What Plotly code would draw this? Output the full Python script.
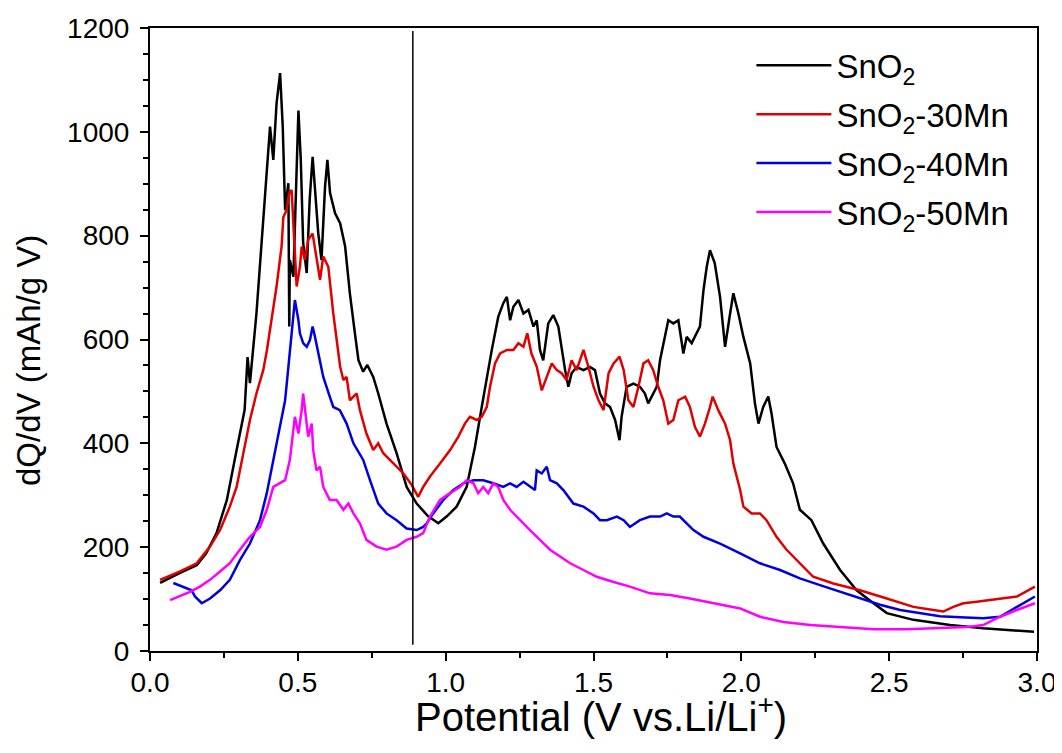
import plotly.graph_objects as go

# ---- data ----
sno2_x = [0.034, 0.10, 0.158, 0.19, 0.225, 0.26, 0.293, 0.32, 0.33, 0.338, 0.36, 0.378, 0.383, 0.395, 0.406,
          0.417, 0.428, 0.44, 0.449, 0.457, 0.468, 0.471, 0.473, 0.485, 0.496, 0.502, 0.51, 0.518, 0.53, 0.54,
          0.55, 0.558, 0.569, 0.58, 0.592, 0.60, 0.609, 0.626, 0.643, 0.66, 0.676, 0.693, 0.705, 0.721, 0.735,
          0.755, 0.772, 0.80, 0.834, 0.868, 0.902, 0.94, 0.975, 1.003, 1.037, 1.071, 1.099, 1.122, 1.139, 1.156,
          1.178, 1.195, 1.207, 1.218, 1.229, 1.246, 1.263, 1.28, 1.297, 1.308, 1.319, 1.33, 1.347, 1.364, 1.381,
          1.392, 1.404, 1.415, 1.426, 1.443, 1.466, 1.488, 1.505, 1.522, 1.539, 1.556, 1.573, 1.588, 1.595,
          1.612, 1.635, 1.657, 1.674, 1.685, 1.697, 1.714, 1.725, 1.742, 1.753, 1.77, 1.787, 1.804, 1.815,
          1.832, 1.849, 1.86, 1.872, 1.883, 1.894, 1.91, 1.928, 1.945, 1.962, 1.973, 1.99, 2.007, 2.03, 2.046,
          2.058, 2.074, 2.091, 2.102, 2.119, 2.147, 2.175, 2.198, 2.237, 2.277, 2.334, 2.39, 2.447, 2.492,
          2.582, 2.706, 2.818, 2.99]
sno2_y = [131, 150, 165, 188, 227, 291, 387, 464, 566, 516, 650, 792, 830, 913, 1010,
          946, 1055, 1113, 1010, 849, 901, 625, 753, 721, 913, 1041, 946, 786, 728, 869,
          952, 882, 805, 753, 894, 946, 882, 843, 824, 779, 689, 612, 560, 538, 551,
          528, 496, 438, 381, 316, 284, 260, 246, 259, 278, 316, 393, 470, 528, 580,
          644, 670, 682, 637, 663, 676, 650, 657, 625, 637, 580, 560, 631, 647, 625,
          580, 541, 509, 535, 547, 541, 547, 541, 496, 477, 470, 445, 406, 451,
          509, 515, 509, 496, 477, 490, 509, 560, 605, 637, 631, 637, 573, 605,
          593, 612, 625, 695, 740, 772, 747, 682, 586, 650, 689, 650, 605, 554, 477,
          438, 470, 490, 458, 393, 361, 323, 272, 252, 207, 156, 117, 92, 73,
          60, 50, 44, 37]

mn30_x = [0.034, 0.10, 0.158, 0.203, 0.237, 0.27, 0.293, 0.316, 0.338, 0.36, 0.383, 0.395, 0.411, 0.428,
          0.445, 0.451, 0.462, 0.471, 0.479, 0.485, 0.496, 0.507, 0.513, 0.524, 0.535, 0.55, 0.563, 0.575,
          0.586, 0.603, 0.62, 0.643, 0.654, 0.665, 0.676, 0.699, 0.71, 0.732, 0.755, 0.772, 0.789, 0.823,
          0.857, 0.885, 0.907, 0.924, 0.947, 0.981, 1.015, 1.043, 1.065, 1.082, 1.105, 1.122, 1.139, 1.15,
          1.167, 1.184, 1.207, 1.229, 1.246, 1.263, 1.276, 1.29, 1.308, 1.325, 1.342, 1.359, 1.376, 1.392,
          1.409, 1.426, 1.443, 1.466, 1.483, 1.5, 1.517, 1.534, 1.551, 1.568, 1.588, 1.602, 1.618, 1.635,
          1.652, 1.669, 1.685, 1.702, 1.719, 1.736, 1.753, 1.77, 1.787, 1.81, 1.826, 1.843, 1.86, 1.877,
          1.894, 1.903, 1.922, 1.945, 1.962, 1.973, 1.996, 2.007, 2.035, 2.063, 2.085, 2.119, 2.153, 2.198,
          2.243, 2.311, 2.401, 2.492, 2.582, 2.65, 2.683, 2.717, 2.751, 2.796, 2.875, 2.932, 2.993]
mn30_y = [137, 153, 169, 201, 233, 278, 316, 381, 445, 496, 541, 578, 637, 702,
          779, 836, 849, 882, 888, 817, 702, 740, 779, 753, 792, 804, 753, 715,
          760, 740, 650, 548, 522, 528, 483, 496, 464, 419, 387, 400, 381, 361,
          342, 320, 297, 316, 336, 361, 387, 413, 438, 451, 445, 451, 470, 509,
          554, 573, 580, 580, 593, 586, 612, 573, 548, 502, 528, 554, 541, 535,
          522, 560, 541, 580, 547, 509, 483, 464, 535, 554, 567, 541, 483, 470,
          509, 554, 560, 541, 509, 483, 438, 445, 483, 490, 470, 432, 413, 438,
          470, 490, 464, 438, 406, 361, 310, 278, 265, 265, 252, 220, 195, 169,
          143, 130, 117, 101, 85, 79, 76, 85, 92, 95, 101, 105, 124]

mn40_x = [0.079, 0.113, 0.141, 0.152, 0.175, 0.203, 0.237, 0.27, 0.304, 0.338, 0.372, 0.395, 0.417, 0.44,
          0.457, 0.468, 0.479, 0.487, 0.49, 0.502, 0.507, 0.518, 0.53, 0.541, 0.55, 0.558, 0.569, 0.586,
          0.608, 0.62, 0.642, 0.665, 0.688, 0.721, 0.744, 0.772, 0.80, 0.834, 0.868, 0.902, 0.924, 0.936,
          0.958, 0.992, 1.026, 1.06, 1.094, 1.127, 1.161, 1.195, 1.218, 1.24, 1.263, 1.285, 1.302, 1.308,
          1.325, 1.342, 1.353, 1.376, 1.398, 1.432, 1.466, 1.5, 1.522, 1.545, 1.579, 1.602, 1.623, 1.657,
          1.691, 1.725, 1.748, 1.77, 1.792, 1.815, 1.838, 1.872, 1.928, 1.996, 2.063, 2.131, 2.198, 2.266,
          2.334, 2.401, 2.469, 2.537, 2.604, 2.672, 2.74, 2.818, 2.875, 2.932, 2.993]
mn40_y = [131, 124, 117, 105, 92, 101, 117, 137, 175, 207, 252, 304, 368, 432,
          483, 547, 612, 663, 676, 637, 612, 593, 586, 599, 625, 605, 573, 528,
          490, 470, 464, 438, 400, 368, 329, 284, 265, 252, 236, 233, 239, 246,
          265, 291, 310, 323, 329, 329, 323, 316, 323, 316, 326, 316, 310, 348,
          342, 355, 329, 323, 310, 284, 278, 265, 252, 252, 259, 252, 239, 252,
          259, 259, 265, 259, 259, 246, 233, 220, 207, 188, 169, 156, 140, 127,
          114, 101, 89, 79, 73, 67, 65, 63, 66, 85, 105]

mn50_x = [0.068, 0.10, 0.135, 0.169, 0.203, 0.237, 0.27, 0.304, 0.338, 0.372, 0.395, 0.417, 0.44, 0.457,
          0.473, 0.485, 0.49, 0.502, 0.513, 0.518, 0.527, 0.535, 0.547, 0.552, 0.563, 0.575, 0.586, 0.608,
          0.631, 0.654, 0.671, 0.688, 0.71, 0.732, 0.766, 0.80, 0.834, 0.868, 0.902, 0.924, 0.947, 0.981,
          1.015, 1.048, 1.071, 1.094, 1.11, 1.127, 1.144, 1.161, 1.178, 1.195, 1.218, 1.251, 1.285, 1.319,
          1.353, 1.387, 1.421, 1.466, 1.511, 1.568, 1.623, 1.691, 1.759, 1.826, 1.883, 1.928, 1.996, 2.063,
          2.142, 2.233, 2.334, 2.447, 2.56, 2.672, 2.762, 2.818, 2.875, 2.932, 2.993]
mn50_y = [98, 105, 114, 124, 137, 153, 169, 195, 220, 239, 272, 316, 323, 329,
          368, 419, 451, 419, 464, 496, 451, 413, 438, 387, 348, 355, 316, 291,
          291, 272, 284, 265, 246, 214, 201, 195, 201, 214, 220, 227, 259, 291,
          304, 316, 329, 323, 304, 316, 304, 323, 316, 291, 272, 252, 233, 214,
          195, 182, 169, 156, 143, 133, 124, 111, 108, 101, 95, 89, 82, 66,
          56, 50, 46, 42, 42, 44, 46, 50, 66, 79, 92]

names = ["SnO<sub>2</sub>", "SnO<sub>2</sub>-30Mn", "SnO<sub>2</sub>-40Mn", "SnO<sub>2</sub>-50Mn"]
colors = ["#000000", "#e00000", "#0000e0", "#ff00ff"]
marker_x = 0.889  # vertical reference line position (V)
x_title = "Potential (V vs.Li/Li<sup>+</sup>)"
y_title = "dQ/dV (mAh/g V)"

series = [(sno2_x, sno2_y), (mn30_x, mn30_y), (mn40_x, mn40_y), (mn50_x, mn50_y)]

fig = go.Figure()
for i, ((xs, ys), nm, c) in enumerate(zip(series, names, colors)):
    fig.add_trace(go.Scatter(x=xs, y=ys, mode="lines", name=nm, legendgroup=f"g{i}",
                             line=dict(color=c, width=2.5)))

fig.add_shape(type="line", x0=marker_x, x1=marker_x, y0=12, y1=1194,
              xref="x", yref="y", line=dict(color="black", width=1.5))

# axis titles as annotations (placed like in the reference)
fig.add_annotation(text=x_title, xref="paper", yref="paper", x=0.508, y=-0.101,
                   xanchor="center", yanchor="middle", showarrow=False,
                   font=dict(size=40))
fig.add_annotation(text=y_title, xref="paper", yref="paper", x=-0.1364, y=0.4655,
                   xanchor="center", yanchor="middle", showarrow=False, textangle=-90,
                   font=dict(size=33))

font_family = "Liberation Sans, Arial, sans-serif"
fig.update_layout(
    width=1054, height=745,
    margin=dict(l=142, r=25, t=20, b=102, autoexpand=False),
    paper_bgcolor="white", plot_bgcolor="white",
    font=dict(family=font_family, color="black", size=28),
    showlegend=True,
    legend=dict(x=0.678, y=0.985, xanchor="left", yanchor="top",
                bgcolor="rgba(0,0,0,0)", font=dict(size=33), itemwidth=75,
                tracegroupgap=3),
    xaxis=dict(range=[0, 3.0], dtick=0.5, tick0=0, tickformat=".1f",
               showline=True, linecolor="black", linewidth=2, mirror=True,
               ticks="outside", ticklen=8, tickwidth=2, tickcolor="black",
               minor=dict(dtick=0.25, ticks="outside", ticklen=5, tickwidth=1.5, tickcolor="black"),
               showgrid=False, zeroline=False, automargin=False, ticklabelstandoff=-3),
    yaxis=dict(range=[0, 1200], dtick=200, tick0=0,
               showline=True, linecolor="black", linewidth=2, mirror=True,
               ticks="outside", ticklen=8, tickwidth=2, tickcolor="black",
               minor=dict(dtick=50, ticks="outside", ticklen=5, tickwidth=1.5, tickcolor="black"),
               showgrid=False, zeroline=False, automargin=False, ticklabelstandoff=5),
)

fig.write_html("out.html")
